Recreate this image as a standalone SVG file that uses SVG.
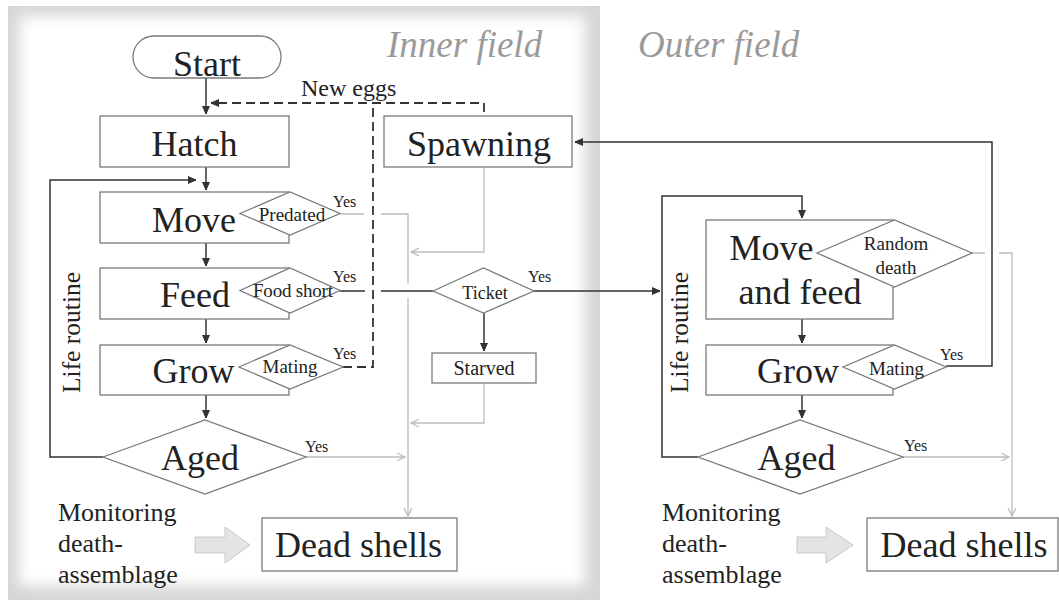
<svg xmlns="http://www.w3.org/2000/svg" width="1059" height="610" viewBox="0 0 1059 610">
<style>
text{font-family:"Liberation Serif","Times New Roman",serif;fill:#222}
.big{font-size:36px;text-anchor:middle}
.mid{font-size:19px;text-anchor:middle}
.yes{font-size:16px}
.side{font-size:26px}
.field{font-size:37px;font-style:italic;fill:#9a9a9a}
.box{fill:#fff;stroke:#7a7a7a;stroke-width:1.3}
.dk{fill:none;stroke:#333;stroke-width:1.5}
.gr{fill:none;stroke:#bdbdbd;stroke-width:1.3}
.dash{fill:none;stroke:#333;stroke-width:1.8;stroke-dasharray:9,5}
.blk{fill:#e4e4e4;stroke:#c8c8c8;stroke-width:1}
</style>
<defs>
<marker id="ad" markerUnits="userSpaceOnUse" markerWidth="12" markerHeight="12" refX="8" refY="4" orient="auto"><path d="M0,0.5 L8,4 L0,7.5" fill="#333" stroke="#333" stroke-width="1"/></marker>
<marker id="ag" markerUnits="userSpaceOnUse" markerWidth="12" markerHeight="12" refX="8" refY="4" orient="auto"><path d="M0,0 L8,4 L0,8" fill="none" stroke="#bdbdbd" stroke-width="1.3"/></marker>
<filter id="soft" x="-10%" y="-10%" width="120%" height="120%"><feGaussianBlur stdDeviation="7"/></filter>
<clipPath id="pc"><rect x="8" y="6" width="592" height="594"/></clipPath>
</defs>
<rect width="1059" height="610" fill="#fff"/>
<g id="panel" clip-path="url(#pc)">
<rect x="8" y="6" width="592" height="594" fill="#d6d6d6"/>
<rect x="19" y="16" width="566" height="570" fill="#fff" filter="url(#soft)"/>
</g>
<text class="field" x="387" y="57">Inner field</text>
<text class="field" x="638" y="57">Outer field</text>

<g id="connectors">
<path class="dk" d="M206 78 V114" marker-end="url(#ad)"/>
<path class="dk" d="M206 167 V190" marker-end="url(#ad)"/>
<path class="dk" d="M206 243 V266" marker-end="url(#ad)"/>
<path class="dk" d="M206 319 V343" marker-end="url(#ad)"/>
<path class="dk" d="M206 395 V418" marker-end="url(#ad)"/>
<path class="dk" d="M103 457 H50 V180 H196" marker-end="url(#ad)"/>
<path class="dash" d="M484 112 V103 H211" marker-end="url(#ad)"/>
<path class="dash" d="M343 367 H373 V103"/>
<path class="gr" d="M341 214 H364 M381 214 H408 V284"/>
<path class="gr" d="M408 298 V516" marker-end="url(#ag)"/>
<path class="gr" d="M484 167 V252 H411" marker-end="url(#ag)"/>
<path class="gr" d="M484 383 V423 H411" marker-end="url(#ag)"/>
<path class="gr" d="M306 457 H405" marker-end="url(#ag)"/>
<path class="dk" d="M340 291 H365 M381 291 H433"/>
<path class="dk" d="M534 291 H660" marker-end="url(#ad)"/>
<path class="dk" d="M484 313 V351" marker-end="url(#ad)"/>
<path class="dk" d="M698 457 H662 V196 H802 V218" marker-end="url(#ad)"/>
<path class="dk" d="M802 319 V343" marker-end="url(#ad)"/>
<path class="dk" d="M802 395 V418" marker-end="url(#ad)"/>
<path class="dk" d="M946 366 H992 V142 H575" marker-end="url(#ad)"/>
<path class="gr" d="M972 253 H985 M999 253 H1012 V516" marker-end="url(#ag)"/>
<path class="gr" d="M903 457 H1009" marker-end="url(#ag)"/>
</g>

<g id="start"><rect class="box" x="133" y="36" width="148" height="42" rx="21"/><text class="big" x="207" y="76">Start</text></g>
<text id="new-eggs" x="301" y="96" style="font-size:24px">New eggs</text>
<g id="hatch"><rect class="box" x="100" y="116" width="189" height="51"/><text class="big" x="194.5" y="156">Hatch</text></g>
<g id="spawning"><rect class="box" x="384" y="116" width="188" height="51"/><text class="big" x="479" y="156">Spawning</text></g>

<g id="move"><rect class="box" x="100" y="192" width="189" height="51"/><text class="big" x="194" y="232">Move</text></g>
<g id="predated"><polygon class="box" points="240,213.5 290,192 340,213.5 290,235"/><text class="mid" x="292" y="221">Predated</text><text class="yes" x="333" y="207">Yes</text></g>

<g id="feed"><rect class="box" x="100" y="268" width="189" height="51"/><text class="big" x="195" y="307">Feed</text></g>
<g id="food-short"><polygon class="box" points="240,290.5 290,268 340,290.5 290,313"/><text class="mid" x="293" y="297" textLength="80">Food short</text><text class="yes" x="333" y="282">Yes</text></g>

<g id="grow"><rect class="box" x="100" y="345" width="189" height="50"/><text class="big" x="193.5" y="383">Grow</text></g>
<g id="mating"><polygon class="box" points="239,367 290,345 343,367 290,389"/><text class="mid" x="290" y="373">Mating</text><text class="yes" x="333" y="359">Yes</text></g>

<g id="aged"><polygon class="box" points="103,457 205,420 306,457 205,494"/><text class="big" x="200" y="470">Aged</text><text class="yes" x="305" y="452">Yes</text></g>

<g id="ticket"><polygon class="box" points="433,291 483.5,268 534,291 483.5,313"/><text class="mid" x="485" y="299" style="font-size:18px">Ticket</text><text class="yes" x="528" y="282">Yes</text></g>
<g id="starved"><rect class="box" x="432" y="353" width="104" height="30"/><text class="mid" x="484" y="375" style="font-size:20px">Starved</text></g>

<g id="life-routine-inner"><text class="side" transform="translate(80,332.5) rotate(-90)" text-anchor="middle" style="font-size:25.5px">Life routine</text></g>

<g id="monitor-inner">
<text class="side" x="58" y="521">Monitoring</text>
<text class="side" x="58" y="552">death-</text>
<text class="side" x="58" y="583">assemblage</text>
<polygon class="blk" points="195,537 225,537 225,527 250,545 225,563 225,553 195,553"/>
</g>
<g id="dead-inner"><rect class="box" x="262" y="518" width="195" height="53"/><text class="big" x="358.5" y="557">Dead shells</text></g>

<g id="move-feed"><rect class="box" x="706" y="220" width="187" height="99"/><text class="big" x="771.5" y="260">Move</text><text class="big" x="800" y="304">and feed</text></g>
<g id="random-death"><polygon class="box" points="817,253 894.5,220 972,253 894.5,287"/><text class="mid" x="896" y="250">Random</text><text class="mid" x="896" y="274">death</text></g>

<g id="grow-outer"><rect class="box" x="706" y="345" width="187" height="50"/><text class="big" x="798" y="383">Grow</text></g>
<g id="mating-outer"><polygon class="box" points="843,367 894.5,345 946,367 894.5,389"/><text class="mid" x="896.5" y="375">Mating</text><text class="yes" x="940" y="360">Yes</text></g>

<g id="aged-outer"><polygon class="box" points="698,457 800,420 903,457 800,494"/><text class="big" x="796.5" y="470">Aged</text><text class="yes" x="904" y="451">Yes</text></g>

<g id="life-routine-outer"><text class="side" transform="translate(688,332.5) rotate(-90)" text-anchor="middle" style="font-size:25.5px">Life routine</text></g>

<g id="monitor-outer">
<text class="side" x="662" y="521">Monitoring</text>
<text class="side" x="662" y="552">death-</text>
<text class="side" x="662" y="583">assemblage</text>
<polygon class="blk" points="797,537 826,537 826,527 853,545 826,563 826,553 797,553"/>
</g>
<g id="dead-outer"><rect class="box" x="867" y="518" width="191" height="53"/><text class="big" x="964" y="557">Dead shells</text></g>
</svg>
